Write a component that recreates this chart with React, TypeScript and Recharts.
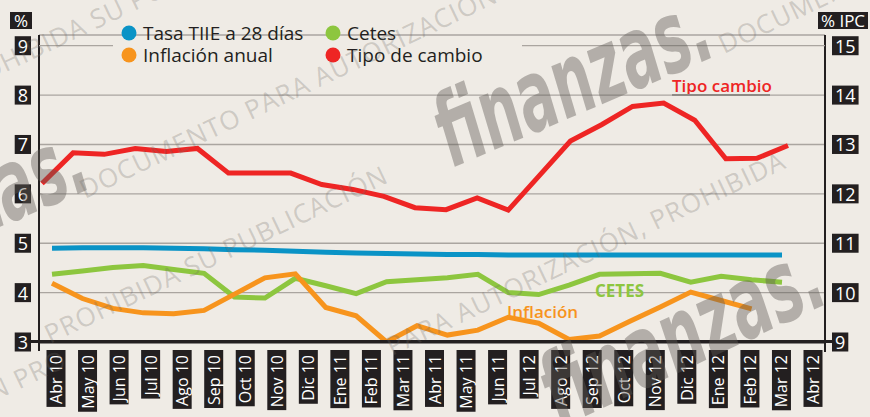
import React from 'react'
import { LineChart, Line, XAxis, YAxis, CartesianGrid } from 'recharts'

// Etiquetas del eje, tal como aparecen en la gráfica
const meses = [
  'Abr 10', 'May 10', 'Jun 10', 'Jul 10', 'Ago 10', 'Sep 10', 'Oct 10', 'Nov 10', 'Dic 10',
  'Ene 11', 'Feb 11', 'Mar 11', 'Abr 11', 'May 11', 'Jun 11', 'Jul 12', 'Ago 12', 'Sep 12',
  'Oct 12', 'Nov 12', 'Dic 12', 'Ene 12', 'Feb 12', 'Mar 12', 'Abr 12',
]

// % (eje izquierdo)
const tiie = [
  4.9, 4.91, 4.91, 4.91, 4.9, 4.89, 4.87, 4.86, 4.84, 4.82, 4.8, 4.79, 4.78,
  4.77, 4.77, 4.76, 4.76, 4.76, 4.76, 4.76, 4.76, 4.76, 4.76, 4.76, 4.76,
]
const cetes = [
  4.37, 4.44, 4.51, 4.55, 4.47, 4.39, 3.91, 3.89, 4.29, 4.14, 3.98, 4.22, 4.26,
  4.3, 4.37, 4.0, 3.96, 4.15, 4.37, 4.38, 4.39, 4.21, 4.33, 4.26, 4.21,
]
const inflacion = [
  4.19, 3.88, 3.68, 3.59, 3.57, 3.64, 3.97, 4.3, 4.38, 3.7, 3.53, 3.0, 3.33,
  3.14, 3.24, 3.5, 3.38, 3.05, 3.12, 3.42, 3.71, 4.01, 3.84, 3.67, null,
]
// pesos por dólar (eje derecho)
const tipoCambio = [
  12.21, 12.83, 12.8, 12.92, 12.86, 12.92, 12.42, 12.42, 12.42, 12.19, 12.09, 11.95, 11.72,
  11.68, 11.92, 11.67, 12.37, 13.07, 13.4, 13.77, 13.84, 13.49, 12.71, 12.72, 12.98,
]

const ticksIzq = [3, 4, 5, 6, 7, 8, 9]
const ticksDer = [9, 10, 11, 12, 13, 14, 15]
// guías completas; la del 9 va cortada por la leyenda
const ticksGuia = [4, 5, 6, 7, 8]
const dominioIzq = [3, 9.217]

const datos = meses.map((mes, i) => ({
  mes,
  tiie: tiie[i],
  cetes: cetes[i],
  inflacion: inflacion[i],
  tipoCambio: tipoCambio[i],
}))

const FONDO = '#efebe5'
const NEGRO = '#231f20'
const GUIA = '#aaa5a0'
const AZUL = '#0a93c6'
const VERDE = '#8dc63f'
const NARANJA = '#f7941d'
const ROJO = '#ee2524'
const FUENTE = '"Open Sans", sans-serif'

let ctx: CanvasRenderingContext2D | null = null
function anchoTexto(texto: string, fuente: string) {
  if (!ctx) ctx = document.createElement('canvas').getContext('2d')
  if (!ctx) return texto.length * 9
  ctx.font = fuente
  return ctx.measureText(texto).width
}

const TickMes = ({ x, y, payload }: any) => {
  const w = anchoTexto(payload.value, `16px ${FUENTE}`)
  return (
    <g transform={`translate(${x},${y}) rotate(-90)`}>
      <rect x={-w - 6} y={-9.5} width={w + 8} height={19} fill={NEGRO} />
      <text x={-3} y={0} textAnchor="end" dominantBaseline="central" fill="#fff" fontSize={16} fontFamily={FUENTE}>
        {payload.value}
      </text>
    </g>
  )
}

const TickIzq = ({ x, y, payload }: any) => {
  const t = String(payload.value)
  const w = anchoTexto(t, `18px ${FUENTE}`)
  return (
    <g>
      <rect x={x - w - 6} y={y - 9.5} width={w + 6} height={19} fill={NEGRO} />
      <text x={x - 3} y={y} textAnchor="end" dominantBaseline="central" fill="#fff" fontSize={18} fontFamily={FUENTE}>
        {t}
      </text>
    </g>
  )
}

const TickDer = ({ x, y, payload }: any) => {
  const t = String(payload.value)
  const w = anchoTexto(t, `18px ${FUENTE}`)
  return (
    <g>
      <rect x={x} y={y - 9.5} width={w + 6} height={19} fill={NEGRO} />
      <text x={x + 3} y={y} textAnchor="start" dominantBaseline="central" fill="#fff" fontSize={18} fontFamily={FUENTE}>
        {t}
      </text>
    </g>
  )
}

const leyenda = [
  { nombre: 'Tasa TIIE a 28 días', color: AZUL, col: 0, fila: 0 },
  { nombre: 'Inflación anual', color: NARANJA, col: 0, fila: 1 },
  { nombre: 'Cetes', color: VERDE, col: 1, fila: 0 },
  { nombre: 'Tipo de cambio', color: ROJO, col: 1, fila: 1 },
]

// marca de agua del periódico
const frases = [
  { texto: 'PROHIBIDA SU PUBLICACIÓN', x: -44, y: 96 },
  { texto: 'DOCUMENTO PARA AUTORIZACIÓN', x: 85, y: 199 },
  { texto: 'PROHIBIDA SU PUBLICACIÓN', x: 50, y: 344 },
  { texto: 'PARA AUTORIZACIÓN, PROHIBIDA', x: 392, y: 356 },
  { texto: 'DOCUMENTO', x: 724, y: 54 },
  { texto: 'PUBLICACIÓN PRO', x: -150, y: 470 },
]
const logos = [
  { x: 452, y: 168, ancho: 290, angulo: -23 },
  { x: 560, y: 428, ancho: 300, angulo: -25 },
  { x: -172, y: 300, ancho: 290, angulo: -23 },
]

function Superpuesto() {
  return (
    <svg width={870} height={417} style={{ position: 'absolute', left: 0, top: 0, zIndex: 5, pointerEvents: 'none' }}>
      {/* guía del 9, interrumpida por la leyenda */}
      <line x1={39} x2={113} y1={45.7} y2={45.7} stroke={GUIA} strokeWidth={1.3} />
      <line x1={522} x2={825} y1={45.7} y2={45.7} stroke={GUIA} strokeWidth={1.3} />

      {/* prolongación de los ejes */}
      <line x1={39} x2={39} y1={340} y2={351} stroke={NEGRO} strokeWidth={2} />
      <line x1={825} x2={825} y1={340} y2={352} stroke={NEGRO} strokeWidth={2} />
      <line x1={30} x2={833} y1={341.5} y2={341.5} stroke={NEGRO} strokeWidth={3} />

      {/* encabezados de los ejes */}
      <rect x={10} y={12} width={22} height={17} fill={NEGRO} />
      <text x={21} y={20.5} textAnchor="middle" dominantBaseline="central" fill="#fff" fontSize={17} fontFamily={FUENTE}>%</text>
      <rect x={818} y={12} width={50} height={17} fill={NEGRO} />
      <text x={843} y={20.5} textAnchor="middle" dominantBaseline="central" fill="#fff" fontSize={17} fontFamily={FUENTE}>% IPC</text>

      {/* leyenda */}
      {leyenda.map((l) => {
        const cx = l.col === 0 ? 129 : 333
        const cy = l.fila === 0 ? 33 : 55
        return (
          <g key={l.nombre}>
            <circle cx={cx} cy={cy} r={7.5} fill={l.color} />
            <text x={cx + 14} y={cy} dominantBaseline="central" fill={NEGRO} fontSize={19} fontFamily={FUENTE}>{l.nombre}</text>
          </g>
        )
      })}

      {/* rótulos */}
      <text x={672} y={92} fill={ROJO} fontSize={17} fontWeight={600} fontFamily={FUENTE}>Tipo cambio</text>
      <line x1={672} x2={770} y1={95} y2={95} stroke="#8f8a85" strokeWidth={2} />
      <text x={595} y={297} fill={VERDE} fontSize={17} fontWeight={700} fontFamily={FUENTE}>CETES</text>
      <text x={507} y={318} fill={NARANJA} fontSize={17} fontWeight={600} fontFamily={FUENTE}>Inflación</text>

      {/* marca de agua */}
      <g fill="rgba(110, 105, 100, 0.27)" fontFamily={FUENTE} fontSize={26} letterSpacing={1}>
        {frases.map((f, i) => (
          <text key={i} transform={`translate(${f.x},${f.y}) rotate(-25.5)`}>{f.texto}</text>
        ))}
      </g>
      <g fill="rgba(95, 90, 85, 0.42)" fontFamily="'DejaVu Sans Condensed', 'DejaVu Sans', sans-serif" fontWeight={700} fontStyle="italic">
        {logos.map((l, i) => (
          <text
            key={i}
            transform={`translate(${l.x},${l.y}) rotate(${l.angulo})`}
            fontSize={100}
            textLength={l.ancho}
            lengthAdjust="spacingAndGlyphs"
          >
            finanzas.
          </text>
        ))}
      </g>
    </svg>
  )
}

export default function App() {
  return (
    <div style={{ position: 'absolute', left: 0, top: 0, width: 870, height: 417, background: FONDO, overflow: 'hidden' }}>
      <LineChart width={870} height={417} data={datos} margin={{ top: 35, right: 0, bottom: 0, left: 0 }}>
        <CartesianGrid xAxisId="mes" yAxisId="guia" vertical={false} stroke={GUIA} strokeWidth={1.3} />
        <XAxis
          xAxisId="mes"
          dataKey="mes"
          interval={0}
          height={75}
          padding={{ left: 17, right: 12 }}
          axisLine={{ stroke: NEGRO, strokeWidth: 3 }}
          tickLine={false}
          tickSize={0}
          tickMargin={10}
          tick={<TickMes />}
        />
        <XAxis xAxisId="serie" dataKey="mes" hide padding={{ left: 13, right: 43 }} />
        <XAxis xAxisId="tc" dataKey="mes" hide padding={{ left: 3, right: 37 }} />
        <YAxis
          yAxisId="izq"
          width={39}
          domain={dominioIzq}
          ticks={ticksIzq}
          allowDataOverflow
          axisLine={{ stroke: NEGRO, strokeWidth: 2 }}
          tickLine={false}
          tickSize={0}
          tickMargin={8}
          tick={<TickIzq />}
        />
        <YAxis yAxisId="guia" hide width={0} domain={dominioIzq} ticks={ticksGuia} allowDataOverflow />
        <YAxis
          yAxisId="der"
          orientation="right"
          width={45}
          domain={[9, 15.217]}
          ticks={ticksDer}
          allowDataOverflow
          axisLine={{ stroke: NEGRO, strokeWidth: 2 }}
          tickLine={false}
          tickSize={0}
          tickMargin={7}
          tick={<TickDer />}
        />
        <Line xAxisId="serie" yAxisId="izq" type="linear" dataKey="tiie" stroke={AZUL} strokeWidth={5} dot={false} isAnimationActive={false} />
        <Line xAxisId="serie" yAxisId="izq" type="linear" dataKey="cetes" stroke={VERDE} strokeWidth={5} dot={false} isAnimationActive={false} />
        <Line xAxisId="serie" yAxisId="izq" type="linear" dataKey="inflacion" stroke={NARANJA} strokeWidth={5} dot={false} isAnimationActive={false} />
        <Line xAxisId="tc" yAxisId="der" type="linear" dataKey="tipoCambio" stroke={ROJO} strokeWidth={5} dot={false} isAnimationActive={false} />
      </LineChart>
      <Superpuesto />
    </div>
  )
}
